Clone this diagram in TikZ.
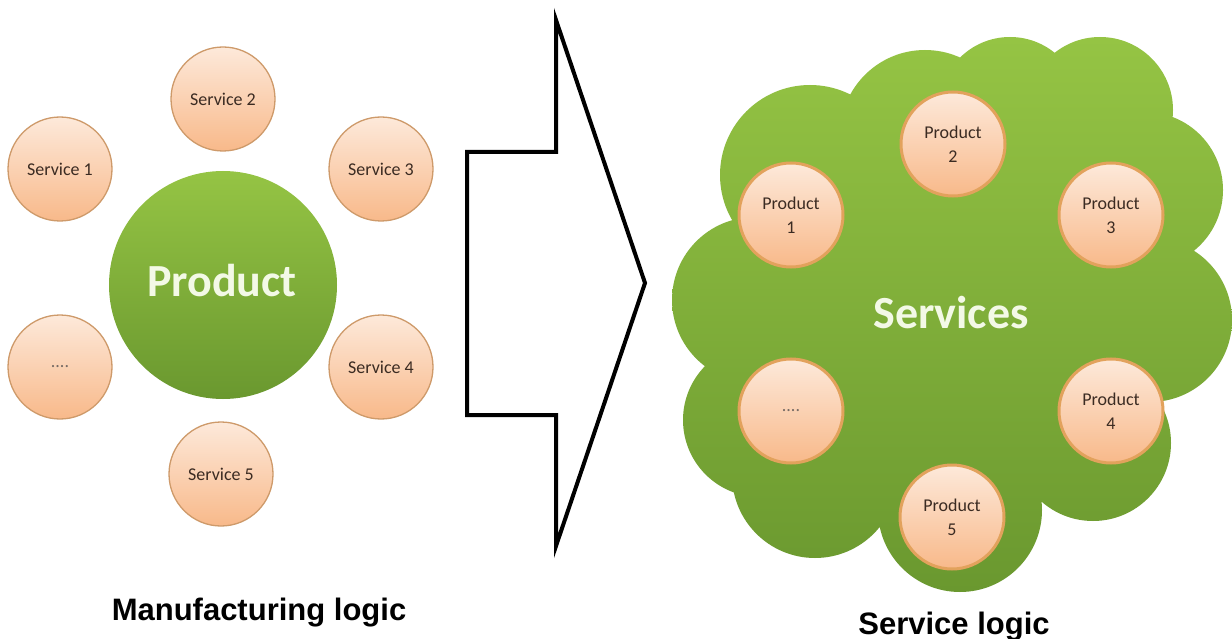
\documentclass[tikz,border=0pt]{standalone}
\usepackage{fontspec}
\setmainfont{Carlito}
\newfontfamily\capfont{Liberation Sans}
\definecolor{peachtop}{HTML}{FDE9DA}
\definecolor{peachbot}{HTML}{F8B98A}
\definecolor{peachedgeL}{HTML}{CE9A6A}
\definecolor{peachedgeR}{HTML}{E2A25C}
\definecolor{greentop}{HTML}{95C444}
\definecolor{greenbot}{HTML}{6A982F}
\definecolor{labeltext}{HTML}{3B2B22}
\definecolor{bigtext}{HTML}{F3F9E6}
\tikzset{
  svc/.style={circle, minimum size=104pt, inner sep=0pt,
    top color=peachtop, bottom color=peachbot, draw=peachedgeL, line width=1.3pt,
    font=\fontsize{18}{24}\selectfont, text=labeltext, align=center},
  prd/.style={svc, draw=peachedgeR, line width=3pt},
  bigword/.style={font=\fontsize{46}{50}\selectfont\bfseries, text=bigtext, anchor=base},
  caption/.style={font=\capfont\fontsize{31}{36}\selectfont\bfseries, text=black, anchor=base},
  bigarrow/.style={draw=black, line width=4pt, line join=miter, fill=white}
}
\begin{document}
\begin{tikzpicture}[x=1pt,y=-1pt]
\useasboundingbox (0,0) rectangle (1232,639);
\fill[white] (0,0) rectangle (1232,639);

% ---------- left: manufacturing logic ----------
\node[circle, minimum size=228pt, inner sep=0pt, top color=greentop, bottom color=greenbot] (prodbig) at (223,285) {};
\node[bigword] (prodtxt) at (222,297) {Product};
\node[svc] (s1) at (60,169) {Service 1};
\node[svc] (s2) at (223,99) {Service 2};
\node[svc] (s3) at (381,169) {Service 3};
\node[svc] (s4) at (381,367) {Service 4};
\node[svc] (s5) at (221,474) {Service 5};
\node[svc, text=labeltext!70] (sdots) at (60,367) {....};
\node[caption] (mlogic) at (259,620) {Manufacturing logic};

% ---------- arrow ----------
\draw[bigarrow] (467,152) -- (556,152) -- (556,20) -- (645,283) -- (556,546) -- (556,415) -- (467,415) -- cycle;

% ---------- right: service logic cloud ----------
\shade[top color=greentop, bottom color=greenbot]
  (755,300) circle[radius=83pt]
  (810,175) circle[radius=90pt]
  (925,135) circle[radius=85pt]
  (1010,108) circle[radius=71pt]
  (1100,110) circle[radius=73pt]
  (1145,190) circle[radius=78pt]
  (1150,320) circle[radius=82pt]
  (1093,443) circle[radius=78pt]
  (960,510) circle[radius=82pt]
  (815,475) circle[radius=83pt]
  (760,420) circle[radius=77pt]
  (950,320) ellipse[x radius=220pt, y radius=200pt];
\node[bigword] (svctxt) at (951,328) {Services};
\node[prd] (p1) at (791,215) {Product\\1};
\node[prd] (p2) at (953,144) {Product\\2};
\node[prd] (p3) at (1111,215) {Product\\3};
\node[prd] (p4) at (1111,411) {Product\\4};
\node[prd] (p5) at (952,517) {Product\\5};
\node[prd, text=labeltext!70] (pdots) at (791,411) {....};
\node[caption] (slogic) at (954,634) {Service logic};
\end{tikzpicture}
\end{document}
